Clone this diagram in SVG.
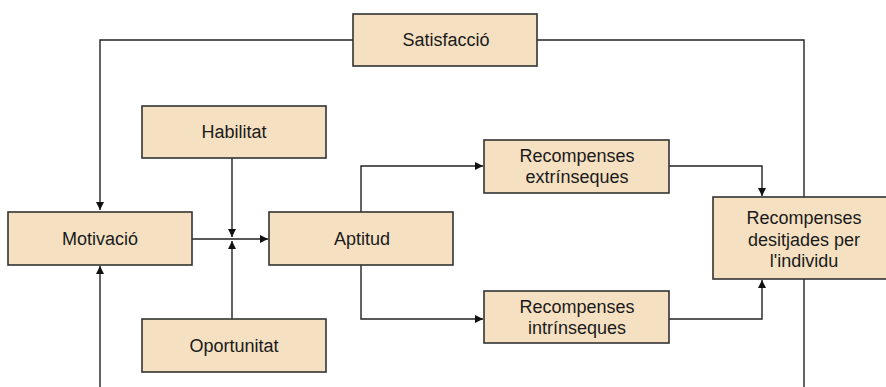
<svg xmlns="http://www.w3.org/2000/svg" width="886" height="387" viewBox="0 0 886 387">
<style>
.box{fill:#F5E1C2;stroke:#333;stroke-width:1.6}
.t{font-family:"Liberation Sans",Arial,sans-serif;font-size:18px;fill:#1a1a1a;text-anchor:middle}
.c{fill:none;stroke:#222;stroke-width:1.4}
</style>
<defs>
<marker id="a" viewBox="0 0 10 10" refX="10" refY="5" markerWidth="8" markerHeight="8" markerUnits="userSpaceOnUse" orient="auto">
<path d="M0,0L10,5L0,10z" fill="#111"/>
</marker>
</defs>
<rect width="886" height="387" fill="#fff"/>
<g id="connectors">
<path class="c" d="M353,40H100V210" marker-end="url(#a)"/>
<path class="c" d="M537,40H804V387"/>
<path class="c" d="M100,387V266" marker-end="url(#a)"/>
<path class="c" d="M192,239H268" marker-end="url(#a)"/>
<path class="c" d="M232,158V237" marker-end="url(#a)"/>
<path class="c" d="M232,319V241" marker-end="url(#a)"/>
<path class="c" d="M361,212V166H483" marker-end="url(#a)"/>
<path class="c" d="M361,265V319H483" marker-end="url(#a)"/>
<path class="c" d="M669,166H762V196" marker-end="url(#a)"/>
<path class="c" d="M669,319H762V280" marker-end="url(#a)"/>
</g>
<g id="satisfaccio"><rect class="box" x="353" y="14" width="184" height="52"/><text class="t" x="446" y="46">Satisfacció</text></g>
<g id="habilitat"><rect class="box" x="142" y="106" width="184" height="52"/><text class="t" x="234" y="138">Habilitat</text></g>
<g id="motivacio"><rect class="box" x="8" y="212" width="184" height="53"/><text class="t" x="100" y="245">Motivació</text></g>
<g id="aptitud"><rect class="box" x="269" y="212" width="184" height="53"/><text class="t" x="362" y="245">Aptitud</text></g>
<g id="oportunitat"><rect class="box" x="142" y="319" width="184" height="53"/><text class="t" x="234" y="352">Oportunitat</text></g>
<g id="extrinseques"><rect class="box" x="484" y="140" width="185" height="53"/><text class="t" x="577" y="162">Recompenses</text><text class="t" x="577" y="183">extrínseques</text></g>
<g id="intrinseques"><rect class="box" x="484" y="291" width="185" height="52"/><text class="t" x="577" y="313">Recompenses</text><text class="t" x="577" y="334">intrínseques</text></g>
<g id="desitjades"><rect class="box" x="713" y="197" width="183" height="82"/><text class="t" x="804" y="224">Recompenses</text><text class="t" x="804" y="246">desitjades per</text><text class="t" x="804" y="267">l'individu</text></g>
</svg>
